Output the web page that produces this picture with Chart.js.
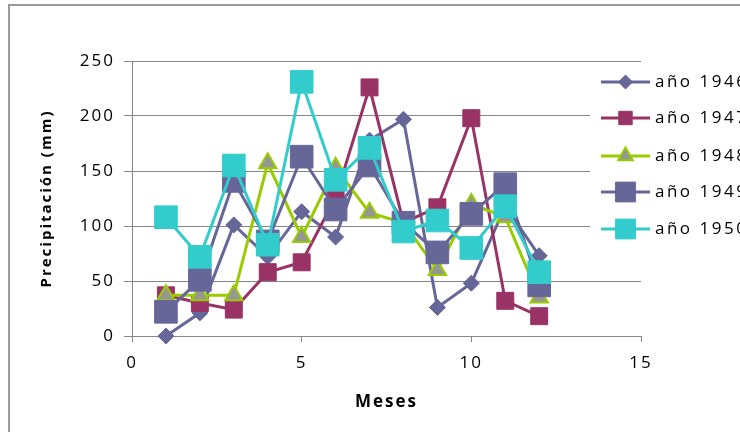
<!DOCTYPE html>
<html><head><meta charset="utf-8">
<script src="https://cdn.jsdelivr.net/npm/chart.js@4/dist/chart.umd.min.js"></script>
<style>html,body{margin:0;padding:0;background:#fff;overflow:hidden}#wrap{width:740px;height:432px;position:relative}</style>
</head><body><div id="wrap"><canvas id="c" width="740" height="432"></canvas></div>
<script>
const months = [1,2,3,4,5,6,7,8,9,10,11,12];
const seriesNames = ['año 1946','año 1947','año 1948','año 1949','año 1950'];
const y1946 = [0,21,101,72,113,90,178,197,26,48,118,73];
const y1947 = [37,30,24,58,67,126,226,103,117,198,32,18];
const y1948 = [37,37,37,157,90,153,112,103,60,120,108,35];
const y1949 = [22,51,141,86,163,115,155,103,76,111,138,46];
const y1950 = [108,72,155,83,231,142,171,95,105,80,118,58];
const xTicks = [0,5,10,15];
const yTicks = [0,50,100,150,200,250];
const xTitle = 'Meses';
const yTitle = 'Precipitación (mm)';

const FONT = '"Open Sans"';
const GRID = '#868686';
const SPACING = '2px';
const LEGEND_SPACING = '2.5px';

const seriesValues = [y1946,y1947,y1948,y1949,y1950];
const styles = [
  {color:'#666699', point:'rectRot', r:8, fill:'#666699', border:'#666699', bw:1, lr:7},
  {color:'#993366', point:'rect', r:12, fill:'#993366', border:'#993366', bw:1, lr:9.5},
  {color:'#99CC00', point:'triangle', r:10, fill:'#969696', border:'#99CC00', bw:2, lr:8.5},
  {color:'#666699', point:'rect', r:16, fill:'#666699', border:'#666699', bw:1, lr:14},
  {color:'#33CCCC', point:'rect', r:16, fill:'#33CCCC', border:'#33CCCC', bw:1, lr:14}
];

const datasets = seriesValues.map((vals,i)=>({
  label: seriesNames[i],
  data: months.map((m,j)=>({x:m, y:vals[j]})),
  borderColor: styles[i].color,
  backgroundColor: styles[i].fill,
  borderWidth: 3,
  tension: 0,
  pointStyle: styles[i].point,
  pointRadius: styles[i].r,
  pointHoverRadius: styles[i].r,
  pointBackgroundColor: styles[i].fill,
  pointBorderColor: styles[i].border,
  pointBorderWidth: styles[i].bw,
  order: seriesNames.length - i,
  clip: false,
  fill: false
}));

const framePlugin = {
  id: 'frame',
  beforeDraw(chart){
    const ctx = chart.ctx;
    ctx.letterSpacing = SPACING;
    ctx.save();
    ctx.fillStyle = '#fff';
    ctx.fillRect(0,0,chart.width,chart.height);
    ctx.strokeStyle = '#9a9a9a';
    ctx.lineWidth = 2;
    ctx.strokeRect(9,5,800,500);
    ctx.restore();
  },
  afterDraw(chart){
    const ctx = chart.ctx;
    ctx.save();
    ctx.fillStyle = '#fff';
    ctx.fillRect(590,68,160,180);
    const ys = [82,118,156,192,229];
    chart.data.datasets.forEach((ds,i)=>{
      const y = ys[i];
      const s = styles[i];
      ctx.strokeStyle = s.color;
      ctx.lineWidth = 3;
      ctx.beginPath(); ctx.moveTo(601,y); ctx.lineTo(650,y); ctx.stroke();
      ctx.fillStyle = s.fill;
      ctx.strokeStyle = s.border;
      ctx.lineWidth = s.bw;
      Chart.helpers.drawPoint(ctx,{pointStyle:s.point, radius:s.lr, borderWidth:s.bw, rotation:0},625.5,y);
      ctx.fillStyle = '#000';
      ctx.font = '17px ' + FONT;
      ctx.letterSpacing = LEGEND_SPACING;
      ctx.textBaseline = 'middle';
      ctx.textAlign = 'left';
      ctx.fillText(ds.label, 655, y);
    });
    ctx.restore();
  }
};

new Chart(document.getElementById('c'), {
  type: 'line',
  data: { datasets },
  options: {
    responsive: false,
    devicePixelRatio: 1,
    animation: false,
    events: [],
    layout: { padding: { left: 0, right: 99, top: 61, bottom: 0 } },
    plugins: { legend: { display: false }, tooltip: { enabled: false } },
    scales: {
      x: {
        type: 'linear', min: 0, max: 15,
        afterBuildTicks: s => { s.ticks = xTicks.map(v=>({value:v})); },
        afterFit: s => { s.height = 96; },
        ticks: { color:'#000', font:{family:FONT,size:17}, padding: 11, maxRotation:0 },
        grid: { drawOnChartArea:false, drawTicks:true, tickLength:6, color:GRID, tickColor:GRID },
        border: { display:true, color:GRID, width:1 },
        title: { display:true, text:xTitle, color:'#000', font:{family:FONT,size:17,weight:'bold'}, padding:{top:0,bottom:20} }
      },
      y: {
        min: 0, max: 250,
        afterBuildTicks: s => { s.ticks = yTicks.map(v=>({value:v})); },
        afterFit: s => { s.width = 132; },
        ticks: { color:'#000', font:{family:FONT,size:17}, padding: 9 },
        grid: { color:GRID, tickColor:GRID, tickLength:8, lineWidth:1 },
        border: { display:true, color:GRID, width:1 },
        title: { display:true, text:yTitle, color:'#000', font:{family:FONT,size:15,weight:'bold'}, padding:{top:38,bottom:0} }
      }
    }
  },
  plugins: [framePlugin]
});
</script>
</body></html>
